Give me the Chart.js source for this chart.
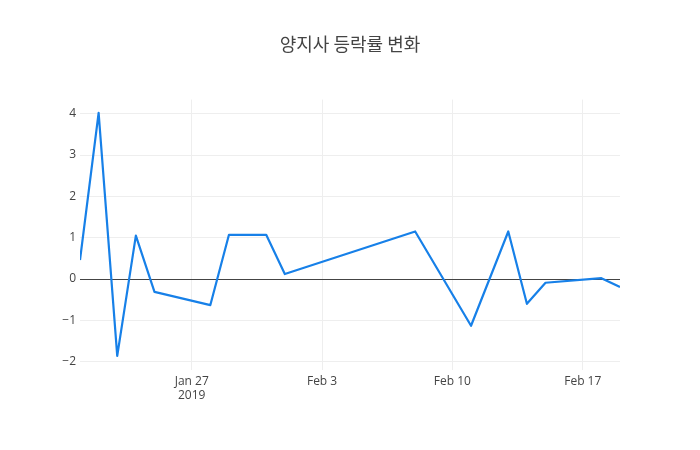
<!doctype HTML>
<html lang="ko">
<head>
    <meta charset=utf-8>
    <title>양지사 등락률 변화</title>
    <style type="text/css">
        * {
            padding: 0;
            margin: 0;
        }

        div {
            width: 700px;
            height: 450px;
        }
    </style>
    <script src="https://cdn.jsdelivr.net/npm/chart.js"></script>
</head>
<body>
    <div>
        <canvas id="rateChart" width="700" height="450"></canvas>
    </div>

    <script type="text/javascript">
        const dates = [
            '2019-01-21', '2019-01-22', '2019-01-23', '2019-01-24', '2019-01-25',
            '2019-01-28', '2019-01-29', '2019-01-31', '2019-02-01', '2019-02-08',
            '2019-02-11', '2019-02-13', '2019-02-14', '2019-02-15', '2019-02-18',
            '2019-02-19'
        ];
        const rates = [
            0.46, 4.02, -1.86, 1.05, -0.31,
            -0.63, 1.07, 1.07, 0.12, 1.15,
            -1.13, 1.15, -0.60, -0.09, 0.02,
            -0.19
        ];
        const xTickDates = ['2019-01-27', '2019-02-03', '2019-02-10', '2019-02-17'];
        const xTickLabels = [['Jan 27', '2019'], 'Feb 3', 'Feb 10', 'Feb 17'];
        const yTicks = [-2, -1, 0, 1, 2, 3, 4];

        const DAY = 86400000;
        const toDay = s => Date.parse(s + 'T00:00:00Z') / DAY;

        const points = dates.map((d, i) => ({ x: toDay(d), y: rates[i] }));
        const xTickValues = xTickDates.map(toDay);

        const font = { family: '"Open Sans", sans-serif', size: 12 };

        const config = {
            type: 'line',
            data: {
                datasets: [{
                    data: points,
                    borderColor: 'rgb(23,128,232)',
                    borderWidth: 2.2,
                    borderJoinStyle: 'round',
                    pointRadius: 0,
                    tension: 0,
                    fill: false
                }]
            },
            options: {
                responsive: false,
                animation: false,
                layout: { padding: 0 },
                plugins: {
                    legend: { display: false },
                    tooltip: { enabled: false },
                    title: {
                        display: true,
                        text: '양지사 등락률 변화',
                        color: '#444',
                        font: { family: '"Noto Sans CJK KR", "Open Sans", sans-serif', size: 18, weight: 'normal' },
                        padding: { top: 33, bottom: 45 }
                    }
                },
                scales: {
                    x: {
                        type: 'linear',
                        min: toDay(dates[0]),
                        max: toDay(dates[dates.length - 1]),
                        afterBuildTicks: axis => {
                            axis.ticks = xTickValues.map(v => ({ value: v }));
                        },
                        afterFit: axis => { axis.height = 80; },
                        ticks: {
                            color: '#444',
                            font: font,
                            padding: 4,
                            maxRotation: 0,
                            autoSkip: false,
                            callback: value => xTickLabels[xTickValues.indexOf(value)]
                        },
                        grid: { color: '#eee', drawTicks: false },
                        border: { display: false }
                    },
                    y: {
                        min: -2.2,
                        max: 4.34,
                        afterBuildTicks: axis => {
                            axis.ticks = yTicks.map(v => ({ value: v }));
                        },
                        afterFit: axis => { axis.width = 80; },
                        ticks: {
                            color: '#444',
                            font: font,
                            padding: 4,
                            callback: value => String(value).replace('-', '\u2212')
                        },
                        grid: {
                            color: ctx => ctx.tick && ctx.tick.value === 0 ? '#444' : '#eee',
                            lineWidth: 1,
                            drawTicks: false
                        },
                        border: { display: false }
                    },
                    // empty right margin so the plot spans 80..620 like the original
                    yRight: {
                        position: 'right',
                        min: -2.2,
                        max: 4.34,
                        afterFit: axis => { axis.width = 80; },
                        ticks: { display: false },
                        grid: { display: false },
                        border: { display: false }
                    }
                }
            }
        };

        const chart = new Chart(document.getElementById('rateChart'), config);
    </script>
</body>
</html>
